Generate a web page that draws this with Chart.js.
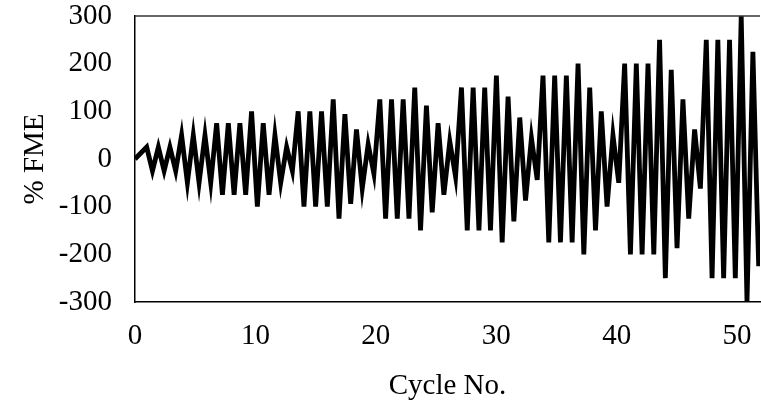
<!DOCTYPE html>
<html><head><meta charset="utf-8">
<script src="https://cdn.jsdelivr.net/npm/chart.js@4"></script>
<style>html,body{margin:0;padding:0;background:#fff;} #c{display:block;}</style>
</head><body>
<canvas id="c" width="761" height="400"></canvas>
<script>
const xTicks = [0, 10, 20, 30, 40, 50];
const yTicks = [-300, -200, -100, 0, 100, 200, 300];

const startCycle = 0;
const startFME = 0;
const peakCycle = [0.97,1.94,2.90,3.87,4.84,5.81,6.78,7.75,8.71,9.68,10.65,11.62,12.59,
  13.55,14.52,15.49,16.46,17.43,18.39,19.36,
  20.33,21.30,22.27,23.23,24.20,25.17,26.14,
  27.11,28.08,29.04,30.01,30.98,31.95,32.92,
  33.88,34.85,35.82,36.79,37.76,38.72,39.69,
  40.66,41.63,42.60,43.56,44.53,45.50,46.47,
  47.44,48.40,49.37,50.34,51.31];
const peakFME = [25,25,25,50,50,50,75,75,75,100,75,50,25,
  100,100,100,125,94,62,31,
  125,125,125,150,112,75,37,
  150,150,150,175,131,87,44,
  175,175,175,200,150,100,50,
  200,200,200,250,187,125,62,
  250,250,250,300,225];
const troughCycle = [1.45,2.42,3.38,4.35,5.32,6.29,7.26,8.23,9.19,10.16,11.13,12.10,13.07,
  14.03,15.00,15.97,16.94,17.91,18.87,19.84,
  20.81,21.78,22.75,23.71,24.68,25.65,26.62,
  27.59,28.56,29.52,30.49,31.46,32.43,33.40,
  34.36,35.33,36.30,37.27,38.24,39.20,40.17,
  41.14,42.11,43.08,44.04,45.01,45.98,46.95,
  47.92,48.88,49.85,50.82,51.79];
const troughFME = [-25,-25,-25,-50,-50,-50,-75,-75,-75,-100,-75,-50,-25,
  -100,-100,-100,-125,-94,-62,-31,
  -125,-125,-125,-150,-112,-75,-37,
  -150,-150,-150,-175,-131,-87,-44,
  -175,-175,-175,-200,-150,-100,-50,
  -200,-200,-200,-250,-187,-125,-62,
  -250,-250,-250,-300,-225];

const points = [{x: startCycle, y: startFME}];
for (let i = 0; i < peakCycle.length; i++) {
  points.push({x: peakCycle[i], y: peakFME[i]});
  points.push({x: troughCycle[i], y: troughFME[i]});
}

const FONT = 'Liberation Serif';
const frame = {
  id: 'frame',
  afterDraw(chart) {
    const {ctx, chartArea: a} = chart;
    ctx.save();
    ctx.strokeStyle = '#333';
    ctx.lineWidth = 1.5;
    ctx.beginPath();
    ctx.moveTo(a.left, a.top);
    ctx.lineTo(a.right, a.top);
    ctx.stroke();
    ctx.restore();
  }
};

new Chart(document.getElementById('c'), {
  type: 'line',
  data: {datasets: [{data: points, borderColor: '#000', borderWidth: 4.8, pointRadius: 0, tension: 0, fill: false}]},
  options: {
    responsive: false, animation: false, devicePixelRatio: 1,
    layout: {padding: {top: 16, right: 1, left: 0, bottom: 0}},
    plugins: {legend: {display: false}, tooltip: {enabled: false}},
    scales: {
      x: {
        type: 'linear', min: 0, max: 51.9,
        afterBuildTicks(s) { s.ticks = xTicks.map(v => ({value: v})); },
        afterFit(s) { s.height = 98; s.paddingLeft = 0; s.paddingRight = 0; },
        grid: {display: false, drawTicks: false},
        border: {display: true, color: '#000', width: 1.5},
        ticks: {padding: 17, color: '#000', maxRotation: 0, autoSkip: false, font: {family: FONT, size: 29}},
        title: {display: true, text: 'Cycle No.', color: '#000', font: {family: FONT, size: 29}, padding: {top: 0, bottom: -4}}
      },
      y: {
        type: 'linear', min: -300, max: 300,
        afterBuildTicks(s) { s.ticks = yTicks.map(v => ({value: v})); },
        afterFit(s) { s.width = 135; s.paddingTop = 0; s.paddingBottom = 0; },
        grid: {display: false, drawTicks: false},
        border: {display: true, color: '#000', width: 1.5},
        ticks: {padding: 23, color: '#000', autoSkip: false, font: {family: FONT, size: 29}},
        title: {display: true, text: '% FME', color: '#000', font: {family: FONT, size: 29}, padding: {top: 18, bottom: 0}}
      }
    }
  },
  plugins: [frame]
});
</script>
</body></html>
